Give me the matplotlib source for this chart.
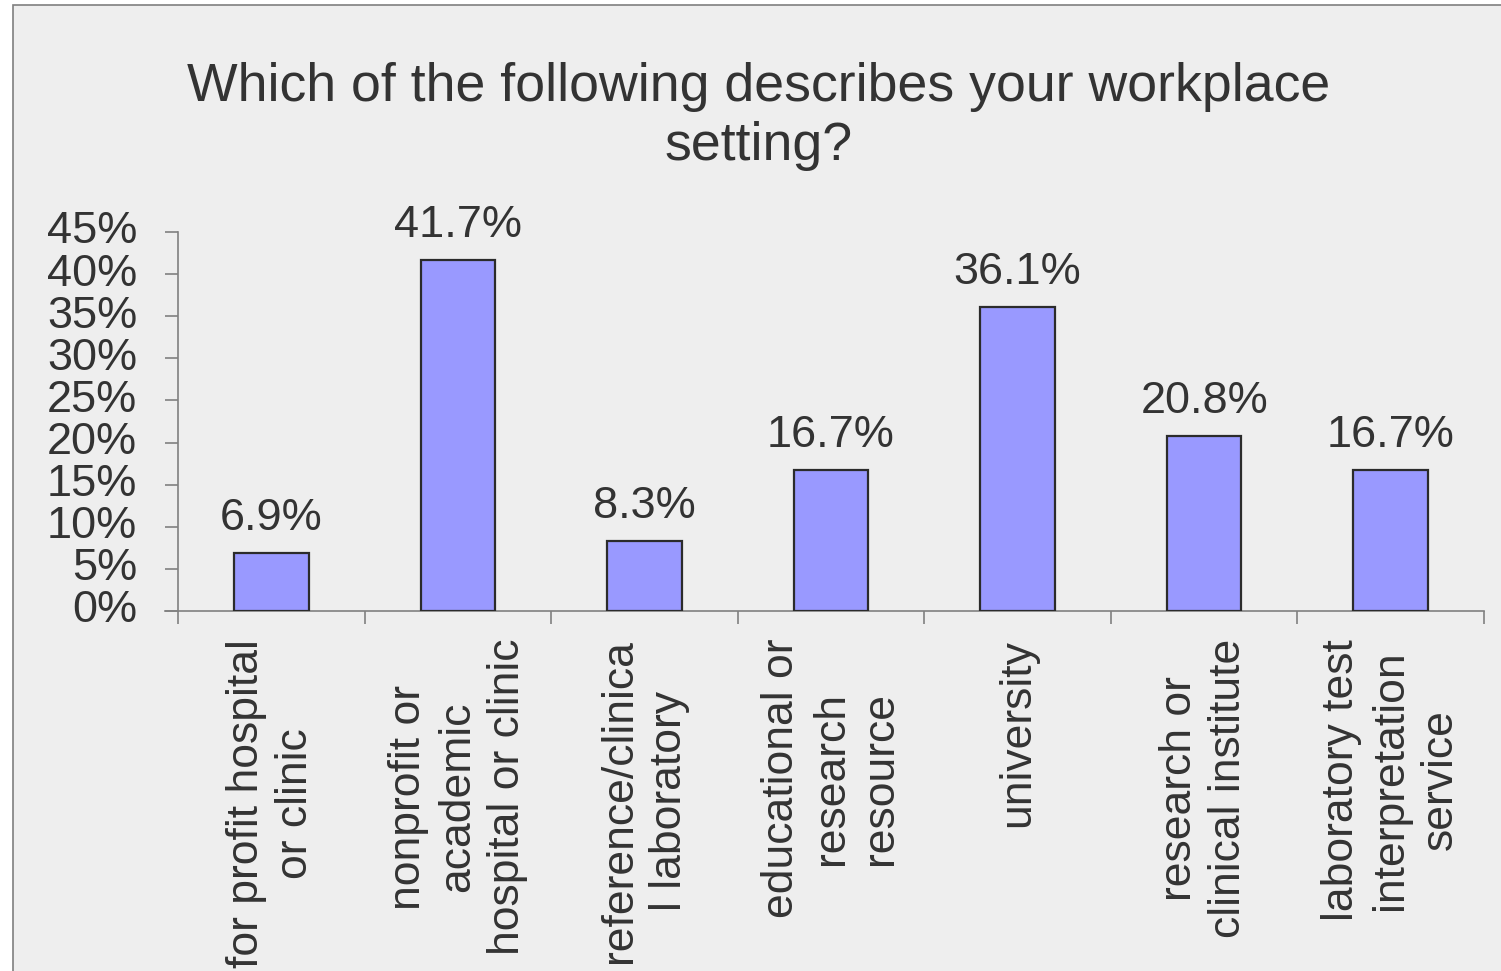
import matplotlib
matplotlib.use("Agg")
import matplotlib.pyplot as plt
from matplotlib.patches import Rectangle
from matplotlib.ticker import FixedLocator, FuncFormatter

plt.rcParams['font.family'] = ['Liberation Sans', 'DejaVu Sans']

title = "Which of the following describes your workplace\nsetting?"
categories = [
    "for profit hospital\nor clinic",
    "nonprofit or\nacademic\nhospital or clinic",
    "reference/clinica\nl laboratory",
    "educational or\nresearch\nresource",
    "university",
    "research or\nclinical institute",
    "laboratory test\ninterpretation\nservice",
]
values = [6.9, 41.7, 8.3, 16.7, 36.1, 20.8, 16.7]
y_ticks = [0, 5, 10, 15, 20, 25, 30, 35, 40, 45]

BG = "#EEEEEE"
TEXT = "#333333"
AXIS = "#808080"
BAR = "#9999FF"

W, H = 1501, 971
fig = plt.figure(figsize=(W / 100, H / 100), dpi=100)
fig.patch.set_facecolor("white")

# chart frame
fig.add_artist(Rectangle((13 / W, -0.01), 1.2, 1 - 5 / H + 0.01,
                         transform=fig.transFigure, facecolor=BG,
                         edgecolor="#7f7f7f", linewidth=1.2, zorder=0))

ax = fig.add_axes([178 / W, 1 - 611 / H, (1484 - 178) / W, (611 - 232) / H])
ax.set_facecolor("none")

x = list(range(len(categories)))
ax.bar(x, values, width=0.4, color=BAR, edgecolor="#2b2b2b", linewidth=1.6, zorder=3)
ax.set_xlim(-0.5, len(categories) - 0.5)
ax.set_ylim(0, 45)

for xi, v in zip(x, values):
    ax.annotate(f"{v:.1f}%", (xi, v), xytext=(0, 10), textcoords="offset points",
                ha="center", va="bottom", fontsize=32.5, color=TEXT)

for s in ("top", "right"):
    ax.spines[s].set_visible(False)
for s in ("left", "bottom"):
    ax.spines[s].set_color(AXIS)
    ax.spines[s].set_linewidth(1.2)
ax.spines["bottom"].set_bounds(-0.5 - 13 / 186.6, len(categories) - 0.5)

ax.yaxis.set_major_locator(FixedLocator(y_ticks))
ax.yaxis.set_major_formatter(FuncFormatter(lambda v, p: f"{v:.0f}%"))
ax.tick_params(axis="y", length=9.4, width=1.2, color=AXIS, labelsize=32.5,
               labelcolor=TEXT, pad=20)
for lbl in ax.get_yticklabels():
    lbl.set_verticalalignment("center")

ax.set_xticks(x)
ax.set_xticklabels(categories, rotation=90, ha="center", va="top",
                   multialignment="center", linespacing=1.26)
ax.set_xticks([i - 0.5 for i in range(len(categories) + 1)], minor=True)
ax.tick_params(axis="x", which="major", length=0, pad=20, labelsize=32, labelcolor=TEXT)
ax.tick_params(axis="x", which="minor", length=9.4, width=1.2, color=AXIS)

fig.text(759 / W, 1 - 62 / H, title, ha="center", va="top", fontsize=38.6,
         color=TEXT, linespacing=1.22)

fig.savefig("out.png", dpi=100, facecolor=fig.get_facecolor())
